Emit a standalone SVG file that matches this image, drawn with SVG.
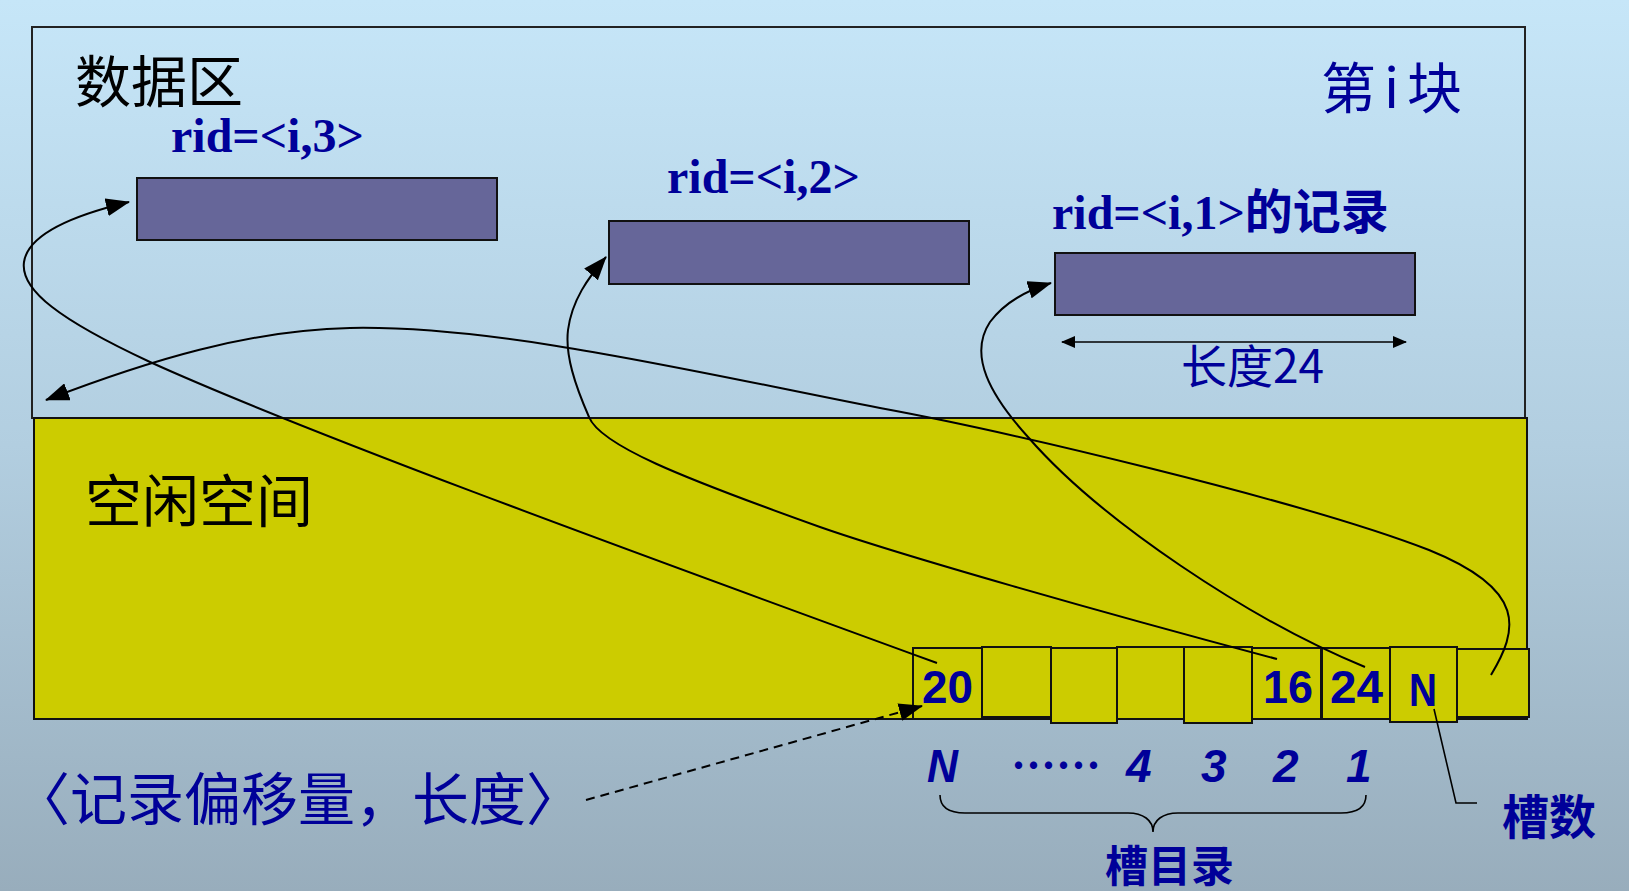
<svg xmlns="http://www.w3.org/2000/svg" width="1629" height="891" viewBox="0 0 1629 891">
<defs>
<linearGradient id="bg" x1="0" y1="0" x2="0" y2="1">
<stop offset="0" stop-color="#c6e6f8"/>
<stop offset="0.5" stop-color="#b2cee0"/>
<stop offset="1" stop-color="#98adbc"/>
</linearGradient>
<marker id="ah" viewBox="0 0 24 18" refX="23" refY="9" markerWidth="24" markerHeight="18" markerUnits="userSpaceOnUse" orient="auto-start-reverse">
<path d="M0,0 L24,9 L0,18 z" fill="#000"/>
</marker>
<marker id="ahs" viewBox="0 0 14 12" refX="13" refY="6" markerWidth="14" markerHeight="12" markerUnits="userSpaceOnUse" orient="auto-start-reverse">
<path d="M0,0 L14,6 L0,12 z" fill="#000"/>
</marker>
</defs>
<style>
.cjk{font-family:"Noto Sans CJK SC","Noto Sans",sans-serif;}
.blk{fill:#000;}
.blu{fill:#000099;}
.rid{font-family:"Liberation Serif","Noto Sans CJK SC",serif;font-weight:bold;font-size:48px;fill:#000099;}
.rec{fill:#666699;stroke:#111;stroke-width:2;}
.cell{fill:#cccc00;stroke:#111;stroke-width:2;}
.num{font-family:"Liberation Sans",sans-serif;font-size:47px;font-weight:bold;fill:#000099;}
.idx{font-family:"Liberation Sans",sans-serif;font-size:46px;font-style:italic;font-weight:bold;fill:#000099;}
.con{fill:none;stroke:#000;stroke-width:2;}
.thin{fill:none;stroke:#000;stroke-width:1.6;}
</style>
<rect x="0" y="0" width="1629" height="891" fill="url(#bg)"/>

<g id="data-area">
<rect x="32" y="27" width="1493" height="391" fill="none" stroke="#222" stroke-width="2"/>
<text class="cjk blk" x="75" y="102" font-size="56">数据区</text>
<text class="cjk blu" x="1321" y="108" font-size="55" textLength="141" lengthAdjust="spacing">第i块</text>
</g>

<g id="record3">
<text class="rid" x="171" y="152">rid=&lt;i,3&gt;</text>
<rect class="rec" x="137" y="178" width="360" height="62"/>
</g>
<g id="record2">
<text class="rid" x="667" y="193">rid=&lt;i,2&gt;</text>
<rect class="rec" x="609" y="221" width="360" height="63"/>
</g>
<g id="record1">
<text class="rid" x="1052" y="229">rid=&lt;i,1&gt;<tspan font-family="'Noto Sans CJK SC',sans-serif">的记录</tspan></text>
<rect class="rec" x="1055" y="253" width="360" height="62"/>
<text class="cjk blu" x="1181" y="383" font-size="46">长度24</text>
</g>

<g id="free-space">
<rect x="34" y="418" width="1493" height="301" fill="#cccc00" stroke="#111" stroke-width="2"/>
<text class="cjk blk" x="85" y="522" font-size="57">空闲空间</text>
</g>

<g id="slot-directory">
<rect class="cell" x="913" y="648" width="69" height="71"/>
<rect class="cell" x="982" y="647" width="69" height="70"/>
<rect class="cell" x="1051" y="648" width="66" height="75"/>
<rect class="cell" x="1117" y="647" width="67" height="72"/>
<rect class="cell" x="1184" y="647" width="68" height="76"/>
<rect class="cell" x="1252" y="648" width="69" height="71"/>
<rect class="cell" x="1322" y="648" width="68" height="71"/>
<rect class="cell" x="1457" y="649" width="72" height="68"/>
<rect class="cell" x="1390" y="647" width="67" height="75" stroke-width="3"/>
<text class="num" x="922" y="703" textLength="51" lengthAdjust="spacingAndGlyphs">20</text>
<text class="num" x="1263" y="703" textLength="50" lengthAdjust="spacingAndGlyphs">16</text>
<text class="num" x="1330" y="703" textLength="53" lengthAdjust="spacingAndGlyphs">24</text>
<text class="num" x="1409" y="706" textLength="28" lengthAdjust="spacingAndGlyphs">N</text>
</g>

<g id="slot-indices">
<text class="idx" x="927" y="782" textLength="31" lengthAdjust="spacingAndGlyphs">N</text>
<text class="cjk blu" x="1011" y="782" font-size="46" font-weight="bold" textLength="90" lengthAdjust="spacingAndGlyphs">……</text>
<text class="idx" x="1126" y="782">4</text>
<text class="idx" x="1201" y="782">3</text>
<text class="idx" x="1273" y="782">2</text>
<text class="idx" x="1346" y="782">1</text>
</g>

<g id="slot-dir-label">
<path class="thin" d="M940,795 C940,808 950,813 965,813 L1128,813 C1143,813 1153,820 1153,832 C1153,820 1163,813 1178,813 L1341,813 C1356,813 1366,808 1366,795"/>
<text class="cjk blu" x="1105" y="882" font-size="43" font-weight="bold">槽目录</text>
</g>

<g id="slot-count-label">
<path class="thin" d="M1434,709 L1456,803 L1477,803"/>
<text class="cjk blu" x="1502" y="834" font-size="47" font-weight="bold">槽数</text>
</g>

<g id="offset-label">
<text class="cjk blu" x="13" y="820" font-size="57" textLength="570" lengthAdjust="spacing">〈记录偏移量，长度〉</text>
</g>

<g id="connectors">
<path class="con" d="M937,663 C600,540 300,430 150,362 C60,320 20,290 24,262 C28,235 70,216 129,202" marker-end="url(#ah)"/>
<path class="con" d="M1277,659 C1100,612 900,555 820,527 C680,477 600,445 589,417 C575,385 565,355 568,330 C572,300 588,278 606,257" marker-end="url(#ah)"/>
<path class="con" d="M1365,667 C1250,620 1100,520 1028,437 C990,395 968,355 990,322 C1005,302 1028,290 1051,283" marker-end="url(#ah)"/>
<path class="con" d="M1491,675 C1518,630 1528,590 1429,550 C1300,500 1000,430 880,408 C700,373 500,325 350,328 C250,330 150,360 46,400" marker-end="url(#ah)"/>
<path class="con" d="M586,800 L922,706" stroke-dasharray="9,6" marker-end="url(#ah)"/>
<path class="thin" d="M1062,342 L1406,342" marker-start="url(#ahs)" marker-end="url(#ahs)"/>
</g>
</svg>
